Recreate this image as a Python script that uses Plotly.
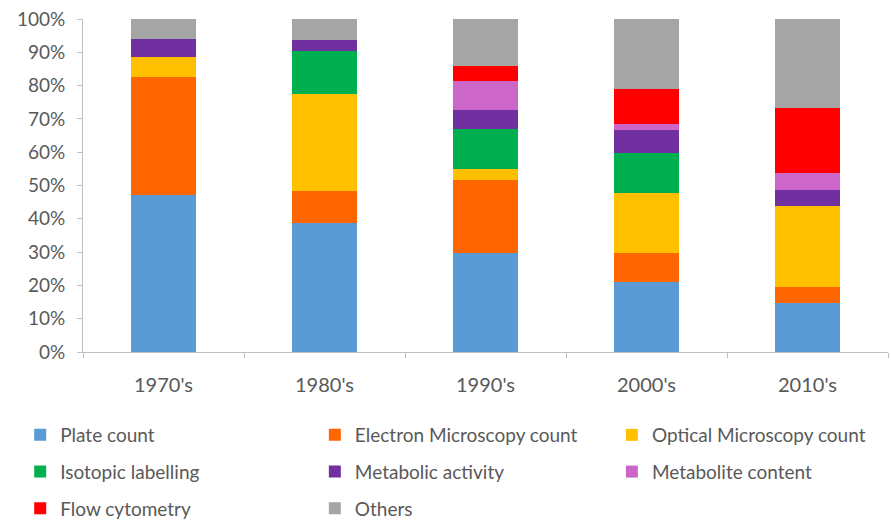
import plotly.graph_objects as go

decades = ["1970's", "1980's", "1990's", "2000's", "2010's"]

# Share of studies (%) using each counting / activity method per decade
plate_count = [47.1, 38.8, 29.8, 20.9, 14.6]
electron_microscopy = [35.6, 9.5, 21.9, 8.9, 4.9]
optical_microscopy = [5.8, 29.2, 3.2, 17.9, 24.3]
isotopic_labelling = [0.0, 13.0, 12.2, 12.0, 0.0]
metabolic_activity = [5.6, 3.3, 5.6, 7.0, 4.8]
metabolite_content = [0.0, 0.0, 8.8, 1.8, 5.2]
flow_cytometry = [0.0, 0.0, 4.5, 10.5, 19.6]
others = [5.9, 6.2, 14.0, 21.0, 26.6]

# each legend column is its own vertical legend
series = [
    ("Plate count", plate_count, "#5B9BD5", "legend"),
    ("Electron Microscopy count", electron_microscopy, "#FF6600", "legend2"),
    ("Optical Microscopy count", optical_microscopy, "#FFC000", "legend3"),
    ("Isotopic labelling", isotopic_labelling, "#00B050", "legend"),
    ("Metabolic activity", metabolic_activity, "#7030A0", "legend2"),
    ("Metabolite content", metabolite_content, "#CC66C8", "legend3"),
    ("Flow cytometry", flow_cytometry, "#FF0000", "legend"),
    ("Others", others, "#A5A5A5", "legend2"),
]

FONT = "Lato, 'Open Sans', sans-serif"
TEXT = "#595959"
AXIS = "#BFBFBF"

fig = go.Figure()
for name, vals, color, leg in series:
    fig.add_trace(go.Bar(
        name=name,
        x=decades,
        y=[v / 100 for v in vals],
        marker=dict(color=color, line=dict(width=0)),
        legend=leg,
        legendgroup=name,
    ))

legend_common = dict(
    orientation="v",
    yref="container",
    yanchor="top",
    y=0.2015,
    xanchor="left",
    font=dict(family=FONT, size=19, color=TEXT),
    bgcolor="rgba(0,0,0,0)",
    tracegroupgap=9,
    traceorder="grouped",
    itemwidth=30,
)

fig.update_layout(
    barmode="stack",
    bargap=0.596,
    width=891,
    height=521,
    margin=dict(l=83, r=3, t=19, b=169),
    paper_bgcolor="white",
    plot_bgcolor="white",
    font=dict(family=FONT, color=TEXT),
    legend=dict(x=-0.078, **legend_common),
    legend2=dict(x=0.288, **legend_common),
    legend3=dict(x=0.657, **legend_common),
    xaxis=dict(
        showline=True,
        linecolor=AXIS,
        linewidth=1,
        ticks="outside",
        tickson="boundaries",
        ticklen=5,
        tickcolor=AXIS,
        tickfont=dict(family=FONT, size=20, color=TEXT),
        showgrid=False,
        ticklabelstandoff=15,
    ),
    yaxis=dict(
        range=[0, 1],
        dtick=0.1,
        tickformat=".0%",
        showline=True,
        linecolor=AXIS,
        linewidth=1,
        ticks="outside",
        ticklen=5,
        tickcolor=AXIS,
        tickfont=dict(family=FONT, size=19, color=TEXT),
        showgrid=False,
        zeroline=False,
        ticklabelstandoff=8,
    ),
)

fig.write_html("out.html")
